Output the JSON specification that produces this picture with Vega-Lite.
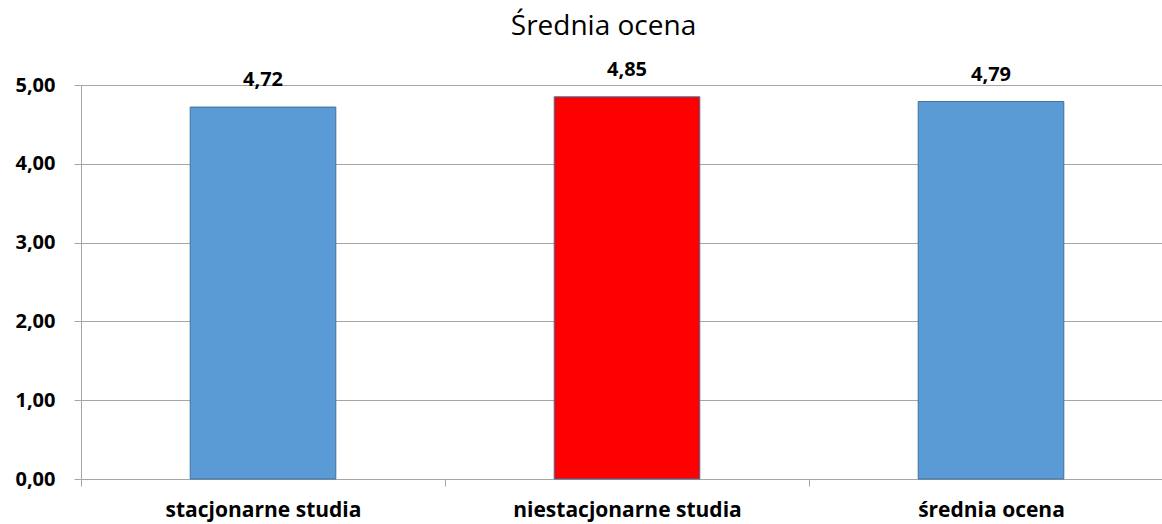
{
  "$schema": "https://vega.github.io/schema/vega-lite/v6.json",
  "autosize": {"type": "none"},
  "width": 1081,
  "height": 394,
  "padding": {"left": 81, "top": 85, "right": 0, "bottom": 45},
  "background": "white",
  "config": {
    "view": {"stroke": null},
    "font": "Open Sans",
    "locale": {"number": {"decimal": ",", "thousands": " ", "grouping": [3], "currency": ["", " zł"]}}
  },
  "title": {
    "text": "Średnia ocena",
    "frame": "group",
    "anchor": "middle",
    "offset": 19,
    "dx": -18,
    "fontSize": 28,
    "fontWeight": "normal",
    "font": "Open Sans",
    "color": "#000000"
  },
  "data": {
    "values": [
      {"kategoria": "stacjonarne studia", "ocena": 4.72},
      {"kategoria": "niestacjonarne studia", "ocena": 4.85},
      {"kategoria": "średnia ocena", "ocena": 4.79}
    ]
  },
  "encoding": {
    "x": {
      "field": "kategoria",
      "type": "nominal",
      "sort": null,
      "scale": {"paddingInner": 0, "paddingOuter": 0, "range": [0, 1092]},
      "axis": {
        "title": null,
        "labelAngle": 0,
        "tickBand": "extent",
        "domainColor": "#A6A6A6",
        "tickColor": "#A6A6A6",
        "tickSize": 7,
        "labelPadding": 13,
        "labelLimit": 400,
        "labelFont": "Open Sans",
        "labelFontSize": 21,
        "labelFontWeight": "bold",
        "labelColor": "#000000",
        "labelBaseline": "top"
      }
    },
    "y": {
      "field": "ocena",
      "type": "quantitative",
      "scale": {"domain": [0, 5]},
      "axis": {
        "title": null,
        "values": [0, 1, 2, 3, 4, 5],
        "format": ".2f",
        "domainColor": "#A6A6A6",
        "tickColor": "#A6A6A6",
        "gridColor": "#A6A6A6",
        "tickSize": 7,
        "labelPadding": 19,
        "labelFont": "Open Sans",
        "labelFontSize": 20,
        "labelFontWeight": "bold",
        "labelColor": "#000000"
      }
    }
  },
  "layer": [
    {
      "mark": {"type": "bar", "width": {"band": 0.4}, "stroke": "#41719C", "strokeWidth": 1},
      "encoding": {
        "color": {
          "field": "kategoria",
          "type": "nominal",
          "scale": {
            "domain": ["stacjonarne studia", "niestacjonarne studia", "średnia ocena"],
            "range": ["#5B9BD5", "#FF0000", "#5B9BD5"]
          },
          "legend": null
        }
      }
    },
    {
      "mark": {"type": "text", "baseline": "alphabetic", "dy": -21, "fontSize": 20, "fontWeight": "bold", "font": "Open Sans", "color": "#000000"},
      "encoding": {
        "text": {"field": "ocena", "type": "quantitative", "format": ".2f"}
      }
    }
  ]
}
